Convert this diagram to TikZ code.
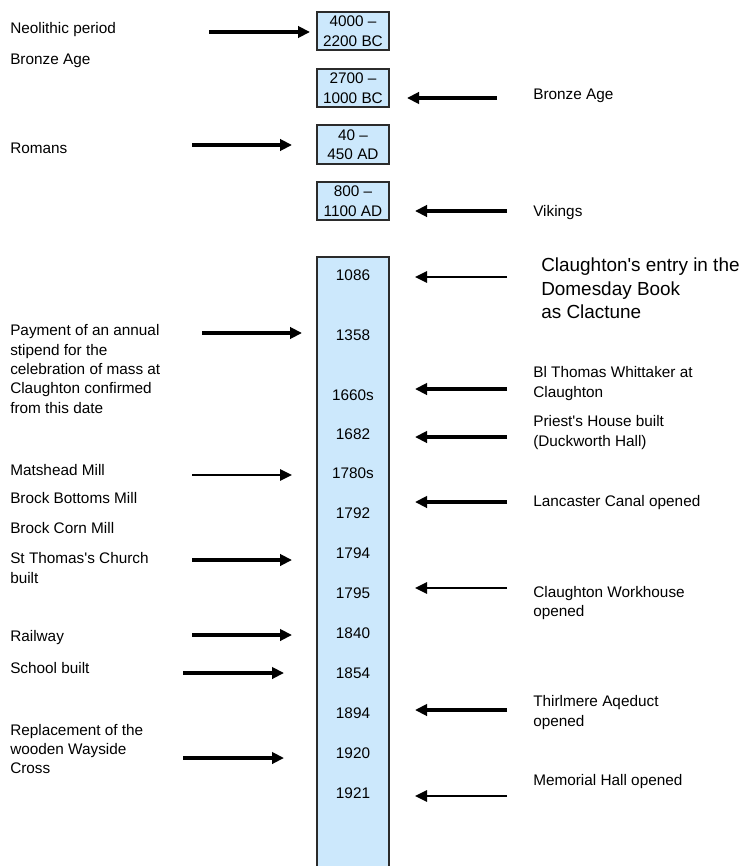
\documentclass[tikz,border=0pt]{standalone}
\usepackage{fontspec}
\usepackage{xcolor}
\usetikzlibrary{positioning,arrows.meta}
\newfontfamily\arialfont{Liberation Sans}
\newcommand{\evfont}{\arialfont\fontsize{11.5}{14.6}\selectfont}
\newcommand{\domfont}{\arialfont\fontsize{14.2}{17.6}\selectfont}
\definecolor{sky}{HTML}{CCE8FC}
\definecolor{frame}{HTML}{2B2B2B}
\tikzset{
  era/.style={draw=frame, fill=sky, line width=1.3pt, minimum width=54pt,
              minimum height=29pt, inner sep=0pt, align=center, font=\evfont},
  colbox/.style={draw=frame, fill=sky, line width=1.3pt},
  yr/.style={font=\evfont, inner sep=0pt},
  ev/.style={font=\evfont, align=left, anchor=west, inner sep=0pt},
  dom/.style={ev, font=\domfont},
  thk/.style={-{Triangle[length=9pt,width=8.5pt]}, line width=2.6pt},
  thn/.style={-{Triangle[length=9pt,width=8.5pt]}, line width=1.3pt},
}

\begin{document}
\begin{tikzpicture}[x=0.75pt,y=-0.75pt]
\useasboundingbox (0,0) rectangle (745,866);

% --- EARLY PERIODS ---
\node[era] (e1) at (353,31)    {4000 –\\2200 BC};
\node[era] (e2) at (353,88)    {2700 –\\1000 BC};
\node[era] (e3) at (353,144.5) {40 –\\450 AD};
\node[era] (e4) at (353,201)   {800 –\\1100 AD};

% --- THE COLUMN OF YEARS ---
\draw[colbox] (317,257) rectangle (389,885);
\node[yr] (y1086)  at (353,275) {1086};
\node[yr] (y1358)  at (353,335) {1358};
\node[yr] (y1660)  at (353,395) {1660s};
\node[yr] (y1682)  at (353,434) {1682};
\node[yr] (y1780)  at (353,473) {1780s};
\node[yr] (y1792)  at (353,513) {1792};
\node[yr] (y1794)  at (353,553) {1794};
\node[yr] (y1795)  at (353,593) {1795};
\node[yr] (y1840)  at (353,633) {1840};
\node[yr] (y1854)  at (353,673) {1854};
\node[yr] (y1894)  at (353,713) {1894};
\node[yr] (y1920)  at (353,753) {1920};
\node[yr] (y1921)  at (353,793) {1921};

% --- LEFT SIDE ---
\node[ev] (neo)    at (10,30)  {Neolithic period};
\node[ev] (bronzeL) at (10,61) {Bronze Age};
\node[ev] (rom)    at (10,148) {Romans};
\node[ev] (pay)    at (10,369) {Payment of an annual\\stipend for the\\celebration of mass at\\Claughton confirmed\\from this date};
\node[ev] (mat)    at (10,470) {Matshead Mill};
\node[ev] (bbm)    at (10,498) {Brock Bottoms Mill};
\node[ev] (bcm)    at (10,528) {Brock Corn Mill};
\node[ev] (stt)    at (10,568) {St Thomas's Church\\built};
\node[ev] (rail)   at (10,638) {Railway};
\node[ev] (school) at (10,668) {School built};
\node[ev] (cross)  at (10,749) {Replacement of the\\wooden Wayside\\Cross};

\coordinate (neoA) at (209,32);     \coordinate (neoB) at (310,32);
\coordinate (romA) at (192,145);    \coordinate (romB) at (292,145);
\coordinate (payA) at (202,333);    \coordinate (payB) at (302,333);
\coordinate (matA) at (192,475);    \coordinate (matB) at (292,475);
\coordinate (sttA) at (192,560);    \coordinate (sttB) at (292,560);
\coordinate (railA) at (192,635);   \coordinate (railB) at (292,635);
\coordinate (schoolA) at (183,673); \coordinate (schoolB) at (284,673);
\coordinate (crossA) at (183,758);  \coordinate (crossB) at (284,758);

\draw[thk] (neoA) -- (neoB);
\draw[thk] (romA) -- (romB);
\draw[thk] (payA) -- (payB);
\draw[thn] (matA) -- (matB);
\draw[thk] (sttA) -- (sttB);
\draw[thk] (railA) -- (railB);
\draw[thk] (schoolA) -- (schoolB);
\draw[thk] (crossA) -- (crossB);

% --- RIGHT SIDE ---
\node[ev] (bronzeR) at (533,96)  {Bronze Age};
\node[ev] (vik)     at (533,213) {Vikings};
\node[dom] (domes)  at (541,288.5) {Claughton's entry in the\\Domesday Book\\as Clactune};
\node[ev] (whit)    at (533,383.5) {Bl Thomas Whittaker at\\Claughton};
\node[ev] (priest)  at (533,432.5) {Priest's House built\\(Duckworth Hall)};
\node[ev] (canal)   at (533,503) {Lancaster Canal opened};
\node[ev] (work)    at (533,603) {Claughton Workhouse\\opened};
\node[ev] (thirl)   at (533,712.5) {Thirlmere Aqeduct\\opened};
\node[ev] (hall)    at (533,782) {Memorial Hall opened};

\coordinate (bronzeA) at (497,98);  \coordinate (bronzeB) at (407,98);
\coordinate (vikA) at (507,211);    \coordinate (vikB) at (415,211);
\coordinate (domA) at (507,277);    \coordinate (domB) at (415,277);
\coordinate (whitA) at (507,389);   \coordinate (whitB) at (415,389);
\coordinate (priestA) at (507,437); \coordinate (priestB) at (415,437);
\coordinate (canalA) at (507,502);  \coordinate (canalB) at (415,502);
\coordinate (workA) at (507,588);   \coordinate (workB) at (415,588);
\coordinate (thirlA) at (507,710);  \coordinate (thirlB) at (415,710);
\coordinate (hallA) at (507,796);   \coordinate (hallB) at (415,796);

\draw[thk] (bronzeA) -- (bronzeB);
\draw[thk] (vikA) -- (vikB);
\draw[thn] (domA) -- (domB);
\draw[thk] (whitA) -- (whitB);
\draw[thk] (priestA) -- (priestB);
\draw[thk] (canalA) -- (canalB);
\draw[thn] (workA) -- (workB);
\draw[thk] (thirlA) -- (thirlB);
\draw[thn] (hallA) -- (hallB);

\end{tikzpicture}
\end{document}
